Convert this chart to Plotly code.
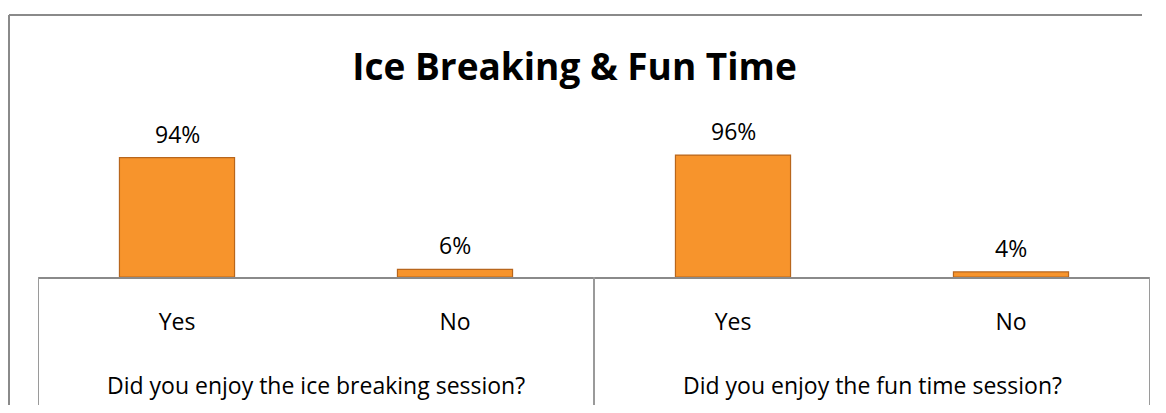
import plotly.graph_objects as go

# Data
groups = ["Did you enjoy the ice breaking session?", "Did you enjoy the fun time session?"]
answers = ["Yes", "No", "Yes", "No"]
values = [0.94, 0.06, 0.96, 0.04]
title_text = "Ice Breaking & Fun Time"

# page body has an 8px margin; the figure is sized to fit inside it
OFF = 8
W, H = 1166 - 2 * OFF, 413 - 2 * OFF
L = 38 - OFF
T = 150 - OFF
pw = 1112
ph = 127
R = W - L - pw
B = H - T - ph

x_pos = list(range(len(answers)))
FONT = "Open Sans"
FS = 23

fig = go.Figure()
fig.add_trace(go.Bar(
    x=x_pos, y=values, width=0.414,
    marker=dict(color="#F7942C", line=dict(color="#B8661C", width=1.2)),
    hoverinfo="skip",
))

def px_x(px):
    return (px - OFF - L) / pw

def px_y(py):
    return (T + ph - (py - OFF)) / ph

BORDER = dict(color="#8A8A8A", width=2)
shapes = []
# outer chart border: top and left edges (right/bottom lie outside the picture)
shapes.append(dict(type="line", xref="paper", yref="paper",
                   x0=px_x(9), x1=px_x(1142), y0=px_y(15), y1=px_y(15),
                   line=BORDER, layer="below"))
shapes.append(dict(type="line", xref="paper", yref="paper",
                   x0=px_x(9), x1=px_x(9), y0=px_y(15), y1=px_y(413),
                   line=BORDER, layer="below"))
# group dividers
n_per_group = len(answers) // len(groups)
for k in range(len(groups) + 1):
    xv = -0.5 + k * n_per_group
    shapes.append(dict(type="line", xref="x", yref="paper",
                       x0=xv, x1=xv, y0=0, y1=px_y(407),
                       line=dict(color="#9A9A9A", width=2)))

annotations = []
# data labels
for xi, v in zip(x_pos, values):
    annotations.append(dict(x=xi, xref="x", y=v, yref="y", text=f"{round(v*100)}%",
                            showarrow=False, yanchor="middle", yshift=24,
                            font=dict(family=FONT, size=FS, color="#000000")))
# group labels
for g, name in enumerate(groups):
    cx = (n_per_group * g + n_per_group * (g + 1) - 1) / 2
    annotations.append(dict(x=cx, xref="x", y=0, yref="paper", text=name,
                            showarrow=False, yanchor="middle", yshift=-108,
                            font=dict(family=FONT, size=FS, color="#000000")))

fig.update_layout(
    width=W, height=H,
    margin=dict(l=L, r=R, t=T, b=B, pad=0),
    paper_bgcolor="white", plot_bgcolor="white",
    showlegend=False,
    title=dict(text=f"<b>{title_text}</b>", x=(574.5 - OFF) / W, xanchor="center",
               y=1 - (67 - OFF) / H, yanchor="middle",
               font=dict(family=FONT, size=37, color="#000000")),
    xaxis=dict(range=[-0.5, len(answers) - 0.5], tickvals=x_pos, ticktext=answers,
               showgrid=False, zeroline=False, showline=True,
               linecolor="#8A8A8A", linewidth=2, ticks="",
               ticklabelstandoff=23,
               tickfont=dict(family=FONT, size=FS, color="#000000")),
    yaxis=dict(range=[0, 1], visible=False),
    shapes=shapes, annotations=annotations,
)

fig.write_html("out.html")
